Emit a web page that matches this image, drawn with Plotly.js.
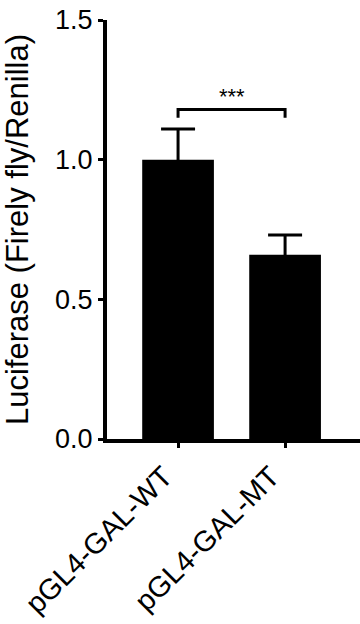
<!DOCTYPE html>
<html>
<head>
<meta charset="utf-8">
<script src="https://cdn.plot.ly/plotly-3.0.1.min.js"></script>
<style>html,body{margin:0;padding:0;background:#fff;}#chart{width:360px;height:624px;}</style>
</head>
<body>
<div id="chart"></div>
<script>
const categories = ["pGL4-GAL-WT", "pGL4-GAL-MT"];
const means = [1.0, 0.66];
const sem = [0.11, 0.07];
const yTickVals = [0.0, 0.5, 1.0, 1.5];
const yTickText = ["0.0", "0.5", "1.0", "1.5"];
const sigLabel = "***";
const sigBracketY = 1.18;
const sigBracketDrop = 0.03;
const sigLabelY = 1.225;

const FONT = "'Liberation Sans', Arial, Helvetica, sans-serif";

const trace = {
  type: "bar",
  x: categories,
  y: means,
  width: 0.67,
  marker: {color: "#000000", line: {width: 0}},
  error_y: {
    type: "data",
    symmetric: false,
    array: sem,
    arrayminus: sem.map(() => 0.03),
    color: "#000000",
    thickness: 3,
    width: 17
  },
  hoverinfo: "skip"
};

const layout = {
  width: 360,
  height: 624,
  margin: {l: 107, r: 0, t: 20, b: 185},
  paper_bgcolor: "#ffffff",
  plot_bgcolor: "#ffffff",
  showlegend: false,
  font: {family: FONT, color: "#000000", size: 28},
  xaxis: {
    type: "category",
    range: [-0.664, 1.70],
    showline: true,
    linecolor: "#000000",
    linewidth: 4,
    ticks: "outside",
    ticklen: 5,
    tickwidth: 3,
    tickcolor: "#000000",
    tickangle: -45,
    ticklabelshift: -14,
    tickfont: {family: FONT, size: 29, color: "#000000"},
    showgrid: false,
    zeroline: false,
    fixedrange: true
  },
  yaxis: {
    range: [0, 1.5],
    tickmode: "array",
    tickvals: yTickVals,
    ticktext: yTickText,
    showline: true,
    linecolor: "#000000",
    linewidth: 4,
    ticks: "outside",
    ticklen: 5,
    tickwidth: 3,
    tickcolor: "#000000",
    tickfont: {family: FONT, size: 27, color: "#000000"},
    showgrid: false,
    zeroline: false,
    title: {text: "Luciferase (Firely fly/Renilla)", font: {family: FONT, size: 31, color: "#000000"}, standoff: 20},
    fixedrange: true
  },
  shapes: [
    {
      type: "path",
      xref: "x", yref: "y",
      path: "M 0," + (sigBracketY - sigBracketDrop) + " L 0," + sigBracketY + " L 1," + sigBracketY + " L 1," + (sigBracketY - sigBracketDrop),
      line: {color: "#000000", width: 3}
    }
  ],
  annotations: [
    {
      x: 0.5, y: sigLabelY, xref: "x", yref: "y",
      text: sigLabel, showarrow: false,
      font: {family: FONT, size: 22, color: "#000000"},
      xanchor: "center", yanchor: "middle"
    }
  ]
};

Plotly.newPlot("chart", [trace], layout, {displayModeBar: false, staticPlot: true});
</script>
</body>
</html>
